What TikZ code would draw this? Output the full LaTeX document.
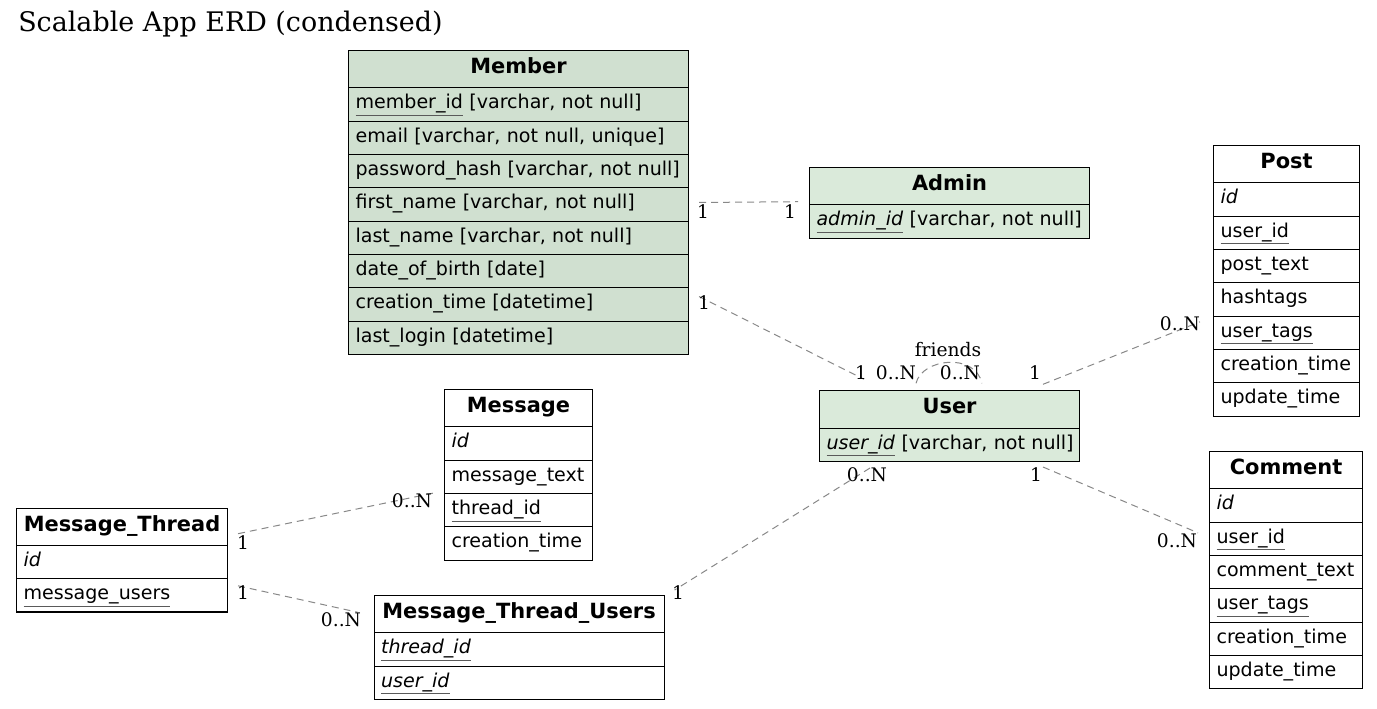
\documentclass[tikz,border=0pt]{standalone}
\usepackage{fontspec}
\setmainfont{DejaVu Sans}
\newfontfamily\serifl{DejaVu Serif}
\usetikzlibrary{calc}
\definecolor{memfill}{RGB}{208,224,208}
\definecolor{admfill}{RGB}{218,234,218}
\definecolor{relgray}{RGB}{136,136,136}
\definecolor{ulgray}{RGB}{90,90,90}
\newcommand\ulx[1]{{\color{ulgray}\underline{\color{black}#1}}}
\tikzset{
 erdcell/.style={draw=black, line width=0.8pt, inner xsep=5.25pt, inner ysep=0pt, text height=10.5pt, text depth=4pt},
 erdhdr/.style={erdcell, minimum height=28pt, align=center, font=\fontsize{15.7}{18}\selectfont\bfseries},
 erdrow/.style={erdcell, minimum height=25pt, align=left, font=\fontsize{14.3}{16}\selectfont},
 rel/.style={draw=relgray, line width=0.75pt, dash pattern=on 5.25pt off 3.75pt},
 card/.style={inner sep=0pt, font=\serifl\fontsize{14}{16}\selectfont},
}
\newcommand\erdtab[7]{%
  \pgfmathsetlengthmacro\erdtw{#4*0.75pt-10.5pt}%
  \node[erdhdr, fill=#5, text width=\erdtw, anchor=north west] (#1) at (#2,#3) {#6};
  \foreach \rr [count=\ii] in {#7} {%
    \node[erdrow, fill=#5, text width=\erdtw, anchor=north west] (#1-\ii) at (#2,{#3+37.3+(\ii-1)*33.33}) {\mbox{\rr}};
  }%
}
\begin{document}
\begin{tikzpicture}[x=0.75pt,y=-0.75pt]
\useasboundingbox (0,0) rectangle (1377,709);
\node[anchor=base west, inner sep=0pt, font=\serifl\fontsize{20.2}{24}\selectfont] (title) at (18,31.7) {Scalable App ERD (condensed)};

\erdtab{member}{348}{50}{340}{memfill}{Member}{{\ulx{member\_id} [varchar, not null]},{email [varchar, not null, unique]},{password\_hash [varchar, not null]},{first\_name [varchar, not null]},{last\_name [varchar, not null]},{date\_of\_birth [date]},{creation\_time [datetime]},{last\_login [datetime]}}
\erdtab{admin}{809}{167}{280}{admfill}{Admin}{{\ulx{\textit{admin\_id}} [varchar, not null]}}
\erdtab{user}{819}{390.3}{260}{admfill}{User}{{\ulx{\textit{user\_id}} [varchar, not null]}}
\erdtab{post}{1213}{145}{146}{white}{Post}{{\textit{id}},{\ulx{user\_id}},{post\_text},{hashtags},{\ulx{user\_tags}},{creation\_time},{update\_time}}
\erdtab{comment}{1209}{451}{153}{white}{Comment}{{\textit{id}},{\ulx{user\_id}},{comment\_text},{\ulx{user\_tags}},{creation\_time},{update\_time}}
\erdtab{message}{444}{389}{148}{white}{Message}{{\textit{id}},{message\_text},{\ulx{thread\_id}},{creation\_time}}
\erdtab{mt}{16}{507.5}{211}{white}{Message\_Thread}{{\textit{id}},{\ulx{message\_users}}}
\erdtab{mtu}{373.5}{595}{290}{white}{Message\_Thread\_Users}{{\ulx{\textit{thread\_id}}},{\ulx{\textit{user\_id}}}}

% connectors
\draw[rel] ($(member-4.east)+(10,-2)$) -- ($(admin-1.north west)+(-11,-2.6)$);
\draw[rel] ($(member-7.east)+(10,-8)$) -- ($(user.north west)+(45,-11)$);
\draw[rel] ($(user.north west)+(224,-6)$) -- ($(post-5.west)+(-13,-11)$);
\draw[rel] ($(user-1.south west)+(224,5)$) -- ($(comment-2.west)+(-11,-6)$);
\draw[rel] ($(user-1.south west)+(51,6)$) -- ($(mtu.north east)+(10,-5)$);
\draw[rel] ($(mt.east)+(10,7)$) -- ($(message-3.west)+(-11,-17)$);
\draw[rel] ($(mt-2.east)+(10,-9.5)$) -- ($(mtu.west)+(-16,-2)$);
\draw[rel] ($(user.north west)+(97,-7)$) .. controls ($(user.north west)+(103,-32)$) and ($(user.north west)+(156,-38)$) .. ($(user.north west)+(163,-7)$);

% cardinality labels
\node[card] (l1) at (703,212) {1};
\node[card] (l2) at (790,212) {1};
\node[card] (l3) at (704,303) {1};
\node[card] (l4) at (861,373) {1};
\node[card] (l5) at (896,373) {0..N};
\node[card] (l6) at (960,373) {0..N};
\node[card] (l7) at (948,350) {friends};
\node[card] (l8) at (1035,373) {1};
\node[card] (l9) at (1180,324) {0..N};
\node[card] (l10) at (1036,475) {1};
\node[card] (l11) at (1177,541) {0..N};
\node[card] (l12) at (867,475) {0..N};
\node[card] (l13) at (678,593) {1};
\node[card] (l14) at (243,543) {1};
\node[card] (l15) at (412,501) {0..N};
\node[card] (l16) at (243,593) {1};
\node[card] (l17) at (341,620) {0..N};
\end{tikzpicture}
\end{document}
